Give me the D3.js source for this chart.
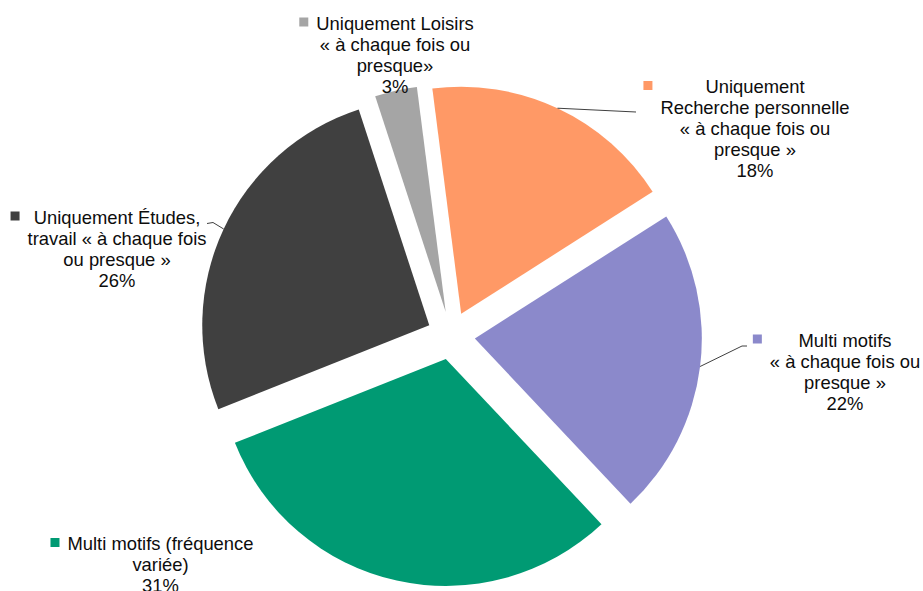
<!DOCTYPE html>
<html>
<head>
<meta charset="utf-8">
<script src="https://cdn.jsdelivr.net/npm/d3@7"></script>
<style>
  html, body { margin: 0; padding: 0; background: #fff; }
  svg { display: block; }
  text { font-family: "Liberation Sans", Arial, sans-serif; font-size: 18.4px; fill: #0d0d0d; }
</style>
</head>
<body>
<svg id="chart" width="923" height="591"></svg>
<script>
// Slices in drawing order (clockwise from the first slice)
const categories = [
  "Uniquement Recherche personnelle",
  "Multi motifs",
  "Multi motifs (fréquence variée)",
  "Uniquement Études, travail",
  "Uniquement Loisirs"
];
const values = [18, 22, 31, 26, 3];
const colors = ["#FF9966", "#8B89CB", "#009A73", "#404040", "#A5A5A5"];
const labelLines = [
  ["Uniquement", "Recherche personnelle", "« à chaque fois ou", "presque »"],
  ["Multi motifs", "« à chaque fois ou", "presque »"],
  ["Multi motifs (fréquence", "variée)"],
  ["Uniquement Études,", "travail « à chaque fois", "ou presque »"],
  ["Uniquement Loisirs", "« à chaque fois ou", "presque»"]
];

// Layout: label block centre x, first baseline y, and leader elbow/end points
const labelLayout = [
  { cx: 755, y: 93,    leader: [[636, 112]] },
  { cx: 845, y: 346.5, leader: [[742, 346], [747, 346]] },
  { cx: 160.5, y: 550, leader: null },
  { cx: 117, y: 223.5, leader: [[213, 222.5], [207, 223.5]] },
  { cx: 395, y: 29.5,  leader: null }
];

const cx = 451, cy = 335.5, radius = 227, explode = 24;
const lineH = 21;

const svg = d3.select("#chart");

const start = -7.3 * Math.PI / 180;
const pie = d3.pie().sort(null).value(d => d).startAngle(start).endAngle(start + 2 * Math.PI);
const arcs = pie(values);
const arc = d3.arc().innerRadius(0).outerRadius(radius);
const color = d3.scaleOrdinal().domain(d3.range(values.length)).range(colors);

const g = svg.append("g").attr("transform", `translate(${cx},${cy})`);

function offset(a) {
  const mid = (a.startAngle + a.endAngle) / 2;
  return [explode * Math.sin(mid), -explode * Math.cos(mid)];
}

g.selectAll("path.slice")
  .data(arcs)
  .join("path")
  .attr("class", "slice")
  .attr("transform", d => { const o = offset(d); return `translate(${o[0]},${o[1]})`; })
  .attr("d", arc)
  .attr("fill", (d, i) => color(i));

// Leader lines from the outer edge midpoint of each slice
arcs.forEach((a, i) => {
  const L = labelLayout[i];
  if (!L.leader) return;
  const mid = (a.startAngle + a.endAngle) / 2;
  const o = offset(a);
  const p0 = [cx + o[0] + radius * Math.sin(mid), cy + o[1] - radius * Math.cos(mid)];
  const pts = [p0].concat(L.leader);
  svg.append("path")
    .attr("d", d3.line()(pts))
    .attr("fill", "none")
    .attr("stroke", "#404040")
    .attr("stroke-width", 1);
});

// Data labels: legend key + centred lines + percentage
arcs.forEach((a, i) => {
  const L = labelLayout[i];
  const lines = labelLines[i].concat([values[i] + "%"]);
  const lg = svg.append("g");
  const texts = lg.selectAll("text")
    .data(lines)
    .join("text")
    .attr("x", L.cx)
    .attr("y", (d, j) => L.y + j * lineH)
    .attr("text-anchor", "middle")
    .text(d => d);
  let maxW = 0;
  texts.each(function () { maxW = Math.max(maxW, this.getComputedTextLength()); });
  const boxLeft = L.cx - maxW / 2;
  lg.append("rect")
    .attr("x", boxLeft - 8 - 9)
    .attr("y", L.y - 7.5 - 4.5)
    .attr("width", 9)
    .attr("height", 9)
    .attr("fill", color(i));
});
</script>
</body>
</html>
